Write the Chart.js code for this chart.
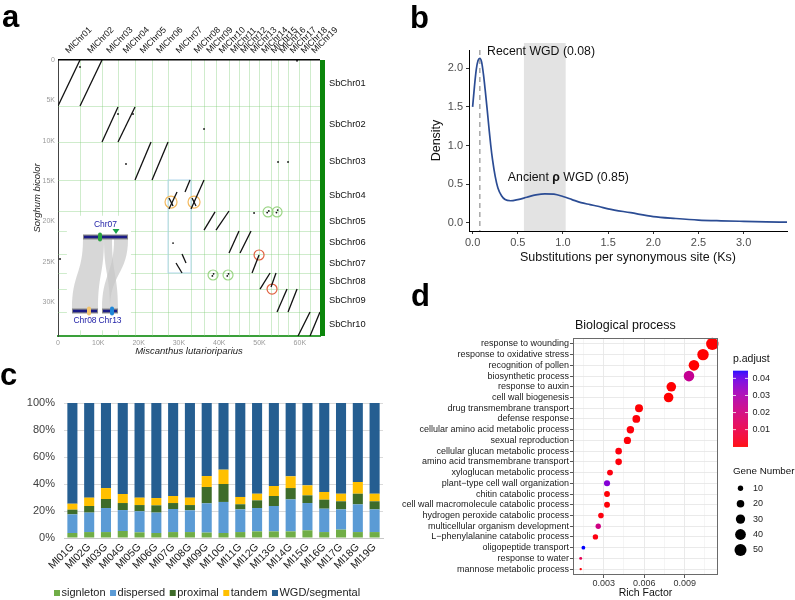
<!DOCTYPE html>
<html>
<head>
<meta charset="utf-8">
<title>Synteny, Ks and GO panels</title>
<script src="https://cdn.jsdelivr.net/npm/chart.js@4.4.1/dist/chart.umd.min.js"></script>
<style>
  body { margin: 0; width: 795px; height: 600px; position: relative; overflow: hidden; background: #fff;
         font-family: "Liberation Sans", Arial, Helvetica, sans-serif; }
  canvas { position: absolute; }
  .tag { position: absolute; font-size: 31px; font-weight: bold; line-height: 31px; color: #000; }
</style>
</head>
<body>
<canvas id="dotplot" width="400" height="360" style="left:0;top:0"></canvas>
<canvas id="ksplot" width="395" height="270" style="left:400px;top:0"></canvas>
<canvas id="dupbars" width="400" height="240" style="left:0;top:360px"></canvas>
<canvas id="goplot" width="395" height="300" style="left:400px;top:300px"></canvas>
<div class="tag" style="left:2px;top:1px">a</div>
<div class="tag" style="left:410px;top:2px">b</div>
<div class="tag" style="left:0;top:359px">c</div>
<div class="tag" style="left:411px;top:280px">d</div>
<script>
/* a: dot plot M. lutarioriparius vs S. bicolor (gene order, in thousands) */
const MI_CHR = ['MlChr01','MlChr02','MlChr03','MlChr04','MlChr05','MlChr06','MlChr07','MlChr08','MlChr09','MlChr10',
                'MlChr11','MlChr12','MlChr13','MlChr14','MlChr15','MlChr16','MlChr17','MlChr18','MlChr19'];
const MI_BOUNDS = [0, 5.46, 10.92, 14.89, 19.11, 23.33, 27.30, 33.0, 36.23, 39.2, 42.43, 44.9, 47.4, 49.88,
                   52.85, 54.59, 57.07, 59.8, 62.53, 65.0];
const SB_CHR = ['SbChr01','SbChr02','SbChr03','SbChr04','SbChr05','SbChr06','SbChr07','SbChr08','SbChr09','SbChr10'];
const SB_BOUNDS = [0, 5.70, 10.16, 14.87, 18.71, 21.19, 24.04, 26.39, 28.38, 31.23, 34.2];
const DOT_X_TICKS = [0, 10, 20, 30, 40, 50, 60];
const DOT_Y_TICKS = [0, 5, 10, 15, 20, 25, 30];
// synteny blocks: [mi start, sb start, mi end, sb end]
const BLOCKS = [
  [0, 5.70, 5.46, 0], [5.46, 5.70, 10.92, 0],
  [10.92, 10.16, 14.89, 5.82], [14.89, 10.16, 19.11, 5.82],
  [19.11, 14.87, 23.08, 10.16], [23.33, 14.87, 27.30, 10.16],
  [27.54, 18.46, 29.53, 16.36], [31.51, 16.36, 32.75, 14.87], [33.0, 18.46, 36.23, 14.87],
  [27.54, 17.10, 28.54, 18.09], [33.25, 17.10, 34.24, 18.09],
  [36.23, 21.07, 38.96, 18.83], [39.2, 21.07, 42.43, 18.71],
  [42.43, 23.92, 44.91, 21.19], [45.16, 23.92, 47.89, 21.19],
  [48.14, 26.39, 49.88, 24.16], [30.77, 24.04, 31.76, 25.15], [29.28, 25.15, 30.77, 26.39],
  [50.12, 28.38, 52.61, 26.39], [52.85, 28.13, 54.09, 26.39],
  [54.34, 31.23, 56.82, 28.38], [57.07, 31.23, 59.31, 28.38],
  [59.55, 34.2, 62.53, 31.23], [62.53, 34.2, 65.0, 31.23]
];
const LONE_HITS = [[5.46, 0.87], [14.89, 6.69], [18.61, 6.69], [16.87, 12.89], [36.23, 8.55], [54.59, 12.64],
  [57.07, 12.64], [28.54, 22.68], [0.5, 24.66], [48.64, 18.96], [59.3, 0.1],
  [51.9, 18.9], [52.3, 18.7], [54.2, 18.9], [54.5, 18.6], [38.3, 26.75], [38.6, 26.5], [42.0, 26.75], [42.3, 26.5]];
const HL_ORANGE = [[28.04, 17.6], [33.75, 17.6]];
const HL_GREEN = [[52.11, 18.83], [54.34, 18.83], [38.46, 26.64], [42.18, 26.64]];
const HL_RED = [[49.88, 24.16], [53.10, 28.38]];
const BLUE_BOX = [27.3, 14.87, 33.0, 26.39];
// inset: Chr07 -> Chr08 / Chr13 micro-synteny
const INSET_CHR = [['Chr07', 6.2, 17.37, 21.93], ['Chr08', 3.47, 9.93, 31.1], ['Chr13', 10.92, 14.89, 31.1]];
const INSET_LINKS = [[6.2, 11.41, 3.47, 9.93], [11.41, 13.4, 12.9, 14.89], [13.9, 17.37, 10.92, 12.9]];
const INSET_GENES = [[0, 10.42], [1, 7.69], [2, 13.4]];
const INSET_TARGET = 14.39;

/* b: Ks density */
const KS = [0, 0.02, 0.04, 0.06, 0.08, 0.10, 0.12, 0.14, 0.16, 0.18, 0.20, 0.22, 0.25, 0.28, 0.32, 0.36, 0.42,
            0.50, 0.60, 0.70, 0.80, 0.90, 1.00, 1.10, 1.20, 1.30, 1.40, 1.50, 1.75, 2.00, 2.25, 2.50, 2.75, 3.00, 3.25, 3.48];
const DENSITY = [1.50, 1.76, 1.98, 2.10, 2.13, 2.08, 1.92, 1.71, 1.48, 1.24, 1.01, 0.82, 0.60, 0.45, 0.35, 0.30, 0.285,
                 0.30, 0.33, 0.36, 0.375, 0.37, 0.34, 0.30, 0.26, 0.235, 0.21, 0.18, 0.13, 0.08, 0.055, 0.035, 0.025, 0.018, 0.012, 0.007];
const KS_TICKS = [0, 0.5, 1, 1.5, 2, 2.5, 3];
const DENS_TICKS = [0, 0.5, 1, 1.5, 2];
const KS_RECENT = 0.08;
const KS_ANCIENT_BAND = [0.568, 1.03];

/* c: duplication modes per chromosome (%) */
const DUP_CHR = ['Ml01G','Ml02G','Ml03G','Ml04G','Ml05G','Ml06G','Ml07G','Ml08G','Ml09G','Ml10G',
                 'Ml11G','Ml12G','Ml13G','Ml14G','Ml15G','Ml16G','Ml17G','Ml18G','Ml19G'];
const SINGLETON = [3.7, 4.4, 4.4, 5.2, 4.2, 3.7, 4.4, 4.4, 4.0, 3.7, 4.4, 4.9, 4.9, 4.9, 5.7, 4.4, 6.2, 4.4, 4.4];
const DISPERSED = [13.8, 14.4, 17.8, 15.5, 15.6, 15.1, 17.1, 16.1, 21.7, 23.0, 16.8, 17.3, 18.8, 23.7, 20.2, 17.3, 15.0, 20.5, 16.8];
const PROXIMAL = [3.5, 4.9, 6.7, 5.2, 4.6, 5.4, 4.4, 3.9, 12.1, 13.3, 3.8, 5.7, 7.4, 8.4, 5.7, 6.7, 6.0, 7.9, 6.0];
const TANDEM = [4.4, 6.2, 8.1, 6.7, 5.5, 5.4, 5.2, 5.5, 8.1, 10.6, 5.4, 4.9, 7.4, 8.7, 7.4, 5.7, 5.6, 8.7, 5.6];
const WGD = [74.6, 70.1, 63.0, 67.4, 70.1, 70.4, 68.9, 70.1, 54.1, 49.4, 69.6, 67.2, 61.5, 54.3, 61.0, 65.9, 67.2, 58.5, 67.2];

/* d: GO enrichment, biological process */
const GO_TERMS = ['response to wounding', 'response to oxidative stress', 'recognition of pollen', 'biosynthetic process',
  'response to auxin', 'cell wall biogenesis', 'drug transmembrane transport', 'defense response',
  'cellular amino acid metabolic process', 'sexual reproduction', 'cellular glucan metabolic process',
  'amino acid transmembrane transport', 'xyloglucan metabolic process', 'plant\u2212type cell wall organization',
  'chitin catabolic process', 'cell wall macromolecule catabolic process', 'hydrogen peroxide catabolic process',
  'multicellular organism development', 'L\u2212phenylalanine catabolic process', 'oligopeptide transport',
  'response to water', 'mannose metabolic process'];
const GO_RICH = [0.01105, 0.01036, 0.00969, 0.00932, 0.00801, 0.00781, 0.00562, 0.00542, 0.00498, 0.00476, 0.00411,
                 0.00411, 0.00347, 0.00325, 0.00325, 0.00325, 0.0028, 0.0026, 0.00239, 0.0015, 0.0013, 0.0013];
const GO_COUNT = [53, 45, 39, 39, 32, 32, 22, 21, 19, 18, 15, 15, 12, 13, 12, 12, 11, 10, 10, 5, 3, 2];
const GO_PADJ = [0.00001, 0.0001, 0.00002, 0.024, 0.0002, 0.00001, 0.0003, 0.0006, 0.0008, 0.0005, 0.0009, 0.0008,
                 0.0012, 0.037, 0.0004, 0.0005, 0.0010, 0.021, 0.0012, 0.0445, 0.012, 0.0006];
const RICH_TICKS = [0.0015, 0.003, 0.0045, 0.006, 0.0075, 0.009, 0.0105];
const PADJ_BREAKS = [0.04, 0.03, 0.02, 0.01];
const COUNT_BREAKS = [10, 20, 30, 40, 50];

const FONT = '"Liberation Sans", Arial, Helvetica, sans-serif';
Chart.defaults.font.family = FONT;
Chart.defaults.color = '#222';
const base = { responsive: false, animation: false, devicePixelRatio: 1, events: [],
  plugins: { legend: { display: false }, tooltip: { enabled: false } } };

function seg(ctx, x1, y1, x2, y2) { ctx.beginPath(); ctx.moveTo(x1, y1); ctx.lineTo(x2, y2); ctx.stroke(); }
const pts = arr => arr.map(([x, y]) => ({ x, y }));
const fixTicks = list => s => { s.ticks = list.map(v => ({ value: v })); };

/* ---------- a ---------- */
function drawInset(ctx, x, y) {
  const X = v => x.getPixelForValue(v), Y = v => y.getPixelForValue(v);
  ctx.fillStyle = '#fff';
  ctx.fillRect(X(2.2), Y(19.3), X(18.1) - X(2.2), Y(33.5) - Y(19.3));
  const topY = Y(INSET_CHR[0][3]) + 2, botY = Y(INSET_CHR[1][3]) - 2, m = (topY + botY) / 2;
  ctx.fillStyle = 'rgba(200,200,200,0.72)';
  INSET_LINKS.forEach(([t0, t1, b0, b1]) => {
    ctx.beginPath();
    ctx.moveTo(X(t0), topY);
    ctx.bezierCurveTo(X(t0), m, X(b0), m, X(b0), botY);
    ctx.lineTo(X(b1), botY);
    ctx.bezierCurveTo(X(b1), m, X(t1), m, X(t1), topY);
    ctx.closePath(); ctx.fill();
  });
  ctx.font = '8.5px ' + FONT; ctx.textAlign = 'center'; ctx.textBaseline = 'middle';
  INSET_CHR.forEach(([name, a, b, at], i) => {
    const yy = Y(at);
    ctx.fillStyle = '#8a8a8a'; ctx.fillRect(X(a), yy - 2.5, X(b) - X(a), 5);
    ctx.fillStyle = '#1b1b86'; ctx.fillRect(X(a) + 1, yy - 1.3, X(b) - X(a) - 2, 2.6);
    ctx.fillStyle = '#2323a8';
    ctx.fillText(name, (X(a) + X(b)) / 2, i === 0 ? yy - 12 : yy + 10);
  });
  const markColors = ['#2aa040', '#f3c46e', '#1e86d8'];
  INSET_GENES.forEach(([c, at], i) => {
    const yy = Y(INSET_CHR[c][3]);
    ctx.fillStyle = markColors[i];
    ctx.beginPath(); ctx.roundRect(X(at) - 2, yy - 4.5, 4, 9, 2); ctx.fill();
  });
  const tx = X(INSET_TARGET), ty = Y(INSET_CHR[0][3]) - 3;
  ctx.fillStyle = '#1aa34a';
  ctx.beginPath(); ctx.moveTo(tx - 3.5, ty - 5); ctx.lineTo(tx + 3.5, ty - 5); ctx.lineTo(tx, ty); ctx.closePath(); ctx.fill();
}

const dotplotDecor = {
  id: 'dotplotDecor',
  beforeDatasetsDraw(chart) {
    const { ctx, chartArea: a, scales: { x, y } } = chart;
    ctx.save();
    ctx.lineWidth = 1;
    ctx.strokeStyle = 'rgba(130,205,120,0.38)';
    MI_BOUNDS.slice(1, -1).forEach(v => { const p = Math.round(x.getPixelForValue(v)) + 0.5; seg(ctx, p, a.top, p, a.bottom); });
    SB_BOUNDS.slice(1, -1).forEach(v => { const p = Math.round(y.getPixelForValue(v)) + 0.5; seg(ctx, a.left, p, a.right, p); });
    ctx.strokeStyle = '#b3d8ee';
    const bx = x.getPixelForValue(BLUE_BOX[0]), by = y.getPixelForValue(BLUE_BOX[1]);
    ctx.strokeRect(bx, by, x.getPixelForValue(BLUE_BOX[2]) - bx, y.getPixelForValue(BLUE_BOX[3]) - by);
    drawInset(ctx, x, y);
    ctx.restore();
  },
  afterDraw(chart) {
    const { ctx, chartArea: a, scales: { x, y } } = chart;
    ctx.save();
    ctx.fillStyle = '#000'; ctx.fillRect(a.left, a.top - 1, a.right - a.left, 1.5);
    ctx.fillStyle = '#0b860b'; ctx.fillRect(a.right, a.top, 5, a.bottom - a.top);
    ctx.fillStyle = '#111'; ctx.textAlign = 'left'; ctx.textBaseline = 'middle';
    ctx.font = '8.8px ' + FONT;
    MI_CHR.forEach((name, i) => {
      const mid = x.getPixelForValue((MI_BOUNDS[i] + MI_BOUNDS[i + 1]) / 2);
      ctx.save(); ctx.translate(mid - 2, a.top - 8); ctx.rotate(-Math.PI / 4); ctx.fillText(name, 0, 0); ctx.restore();
    });
    ctx.font = '9.3px ' + FONT;
    SB_CHR.forEach((name, i) => {
      ctx.fillText(name, a.right + 9, y.getPixelForValue((SB_BOUNDS[i] + SB_BOUNDS[i + 1]) / 2));
    });
    ctx.restore();
  }
};

const fmtK = v => v === 0 ? '0' : v + 'K';
const ring = (data, color, r) => ({ data: pts(data), pointRadius: r, borderColor: color, borderWidth: 1.2,
  backgroundColor: 'rgba(0,0,0,0)' });

new Chart(document.getElementById('dotplot'), {
  type: 'scatter',
  data: { datasets: [
    ...BLOCKS.map(b => ({ data: [{ x: b[0], y: b[1] }, { x: b[2], y: b[3] }], showLine: true,
      borderColor: '#111', borderWidth: 1.3, pointRadius: 0 })),
    { data: pts(LONE_HITS), pointRadius: 0.9, backgroundColor: '#111', borderWidth: 0 },
    ring(HL_ORANGE, '#f3b95e', 6),
    ring(HL_GREEN, '#9bd585', 5),
    ring(HL_RED, '#e0603e', 5)
  ] },
  options: { ...base,
    layout: { padding: { left: 0, top: 60, right: 80, bottom: 0 } },
    scales: {
      x: { type: 'linear', min: 0, max: 65, afterFit: s => { s.height = 24; }, afterBuildTicks: fixTicks(DOT_X_TICKS),
        grid: { display: false, drawTicks: false }, border: { color: '#3aa03a', width: 2 },
        ticks: { font: { size: 7 }, color: '#9a9a9a', padding: 3, callback: fmtK, autoSkip: false },
        title: { display: true, text: 'Miscanthus lutarioriparius', color: '#222',
          font: { size: 9.5, style: 'italic' }, padding: { top: 0, bottom: 3 } } },
      y: { type: 'linear', reverse: true, min: 0, max: 34.2, afterFit: s => { s.width = 58; },
        afterBuildTicks: fixTicks(DOT_Y_TICKS),
        grid: { display: false, drawTicks: false }, border: { color: '#444', width: 1 },
        ticks: { font: { size: 7 }, color: '#9a9a9a', padding: 3, callback: fmtK, autoSkip: false },
        title: { display: true, text: 'Sorghum bicolor', color: '#222',
          font: { size: 9.5, style: 'italic' }, padding: { top: 32, bottom: 0 } } }
    }
  },
  plugins: [dotplotDecor]
});

/* ---------- b ---------- */
const ksDecor = {
  id: 'ksDecor',
  beforeDatasetsDraw(chart) {
    const { ctx, chartArea: a, scales: { x } } = chart;
    ctx.save();
    const x0 = x.getPixelForValue(KS_ANCIENT_BAND[0]), x1 = x.getPixelForValue(KS_ANCIENT_BAND[1]);
    ctx.fillStyle = '#e3e3e3';
    ctx.fillRect(x0, a.top - 7, x1 - x0, a.bottom - a.top + 7);
    const xr = x.getPixelForValue(KS_RECENT);
    ctx.strokeStyle = '#9a9a9a'; ctx.lineWidth = 1.3; ctx.setLineDash([5, 4]);
    seg(ctx, xr, a.top, xr, a.bottom);
    ctx.restore();
  },
  afterDatasetsDraw(chart) {
    const { ctx, scales: { x, y } } = chart;
    ctx.save();
    ctx.fillStyle = '#111'; ctx.textAlign = 'left'; ctx.textBaseline = 'middle';
    ctx.font = '12.3px ' + FONT;
    ctx.fillText('Recent WGD (0.08)', x.getPixelForValue(0.16), y.getPixelForValue(2.21));
    let px = x.getPixelForValue(0.39);
    const py = y.getPixelForValue(0.58);
    [['Ancient ', ''], ['\u03c1', 'bold '], [' WGD (0.85)', '']].forEach(([t, w]) => {
      ctx.font = w + '12.3px ' + FONT;
      ctx.fillText(t, px, py);
      px += ctx.measureText(t).width;
    });
    ctx.restore();
  }
};

new Chart(document.getElementById('ksplot'), {
  type: 'scatter',
  data: { datasets: [{ data: KS.map((k, i) => ({ x: k, y: DENSITY[i] })), showLine: true, pointRadius: 0,
    borderColor: '#2b4c94', borderWidth: 1.7, cubicInterpolationMode: 'monotone' }] },
  options: { ...base,
    layout: { padding: { left: 0, top: 50, right: 8, bottom: 0 } },
    scales: {
      x: { type: 'linear', min: -0.04, max: 3.48, afterFit: s => { s.height = 39; }, afterBuildTicks: fixTicks(KS_TICKS),
        grid: { drawOnChartArea: false, tickLength: 3, color: '#333' }, border: { color: '#000', width: 1 },
        ticks: { font: { size: 11 }, color: '#4d4d4d', padding: 2, callback: v => v.toFixed(1), autoSkip: false },
        title: { display: true, text: 'Substitutions per synonymous site (Ks)', color: '#111',
          font: { size: 12.5 }, padding: { top: 0, bottom: 5 } } },
      y: { type: 'linear', min: -0.107, max: 2.237, afterFit: s => { s.width = 69; }, afterBuildTicks: fixTicks(DENS_TICKS),
        grid: { drawOnChartArea: false, tickLength: 3, color: '#333' }, border: { color: '#000', width: 1 },
        ticks: { font: { size: 11 }, color: '#4d4d4d', padding: 3, callback: v => v.toFixed(1), autoSkip: false },
        title: { display: true, text: 'Density', color: '#111', font: { size: 12.5 }, padding: { top: 29, bottom: 0 } } }
    }
  },
  plugins: [ksDecor]
});

/* ---------- c ---------- */
const barLegend = {
  id: 'barLegend',
  afterDraw(chart) {
    const { ctx } = chart;
    ctx.save();
    ctx.font = '11px ' + FONT; ctx.textBaseline = 'middle'; ctx.textAlign = 'left';
    let px = 54;
    const py = 233;
    chart.data.datasets.forEach(ds => {
      ctx.fillStyle = ds.backgroundColor; ctx.fillRect(px, py - 3, 6, 6);
      ctx.fillStyle = '#222'; ctx.fillText(ds.label, px + 7.5, py);
      px += 7.5 + ctx.measureText(ds.label).width + 4.5;
    });
    ctx.restore();
  }
};

new Chart(document.getElementById('dupbars'), {
  type: 'bar',
  data: { labels: DUP_CHR, datasets: [
    { label: 'signleton', data: SINGLETON, backgroundColor: '#70ad47' },
    { label: 'dispersed', data: DISPERSED, backgroundColor: '#5b9bd5' },
    { label: 'proximal', data: PROXIMAL, backgroundColor: '#3e6c2a' },
    { label: 'tandem', data: TANDEM, backgroundColor: '#ffc000' },
    { label: 'WGD/segmental', data: WGD, backgroundColor: '#255e91' }
  ] },
  options: { ...base,
    datasets: { bar: { categoryPercentage: 1, barPercentage: 0.6, borderWidth: 0 } },
    layout: { padding: { left: 0, top: 43, right: 17, bottom: 0 } },
    scales: {
      x: { stacked: true, afterFit: s => { s.height = 62; }, grid: { display: false, drawTicks: false },
        border: { color: '#c8c8c8', width: 1 },
        ticks: { font: { size: 10.5 }, color: '#1a1a1a', minRotation: 45, maxRotation: 45, padding: 3, autoSkip: false } },
      y: { stacked: true, min: 0, max: 100, afterFit: s => { s.width = 64; },
        grid: { color: '#dadada', drawTicks: false }, border: { display: false },
        ticks: { stepSize: 20, font: { size: 11 }, color: '#404040', padding: 9, callback: v => v + '%' } }
    }
  },
  plugins: [barLegend]
});

/* ---------- d ---------- */
function toLab(hex) {
  const [r, g, b] = [1, 3, 5].map(i => parseInt(hex.substr(i, 2), 16) / 255)
    .map(c => c <= 0.04045 ? c / 12.92 : Math.pow((c + 0.055) / 1.055, 2.4));
  const f = t => t > 0.008856 ? Math.cbrt(t) : 7.787 * t + 16 / 116;
  const X = f((r * 0.4124 + g * 0.3576 + b * 0.1805) / 0.95047), Y = f(r * 0.2126 + g * 0.7152 + b * 0.0722),
        Z = f((r * 0.0193 + g * 0.1192 + b * 0.9505) / 1.08883);
  return [116 * Y - 16, 500 * (X - Y), 200 * (Y - Z)];
}
function fromLab([L, A, B]) {
  const fy = (L + 16) / 116, fx = fy + A / 500, fz = fy - B / 200;
  const fi = t => t ** 3 > 0.008856 ? t ** 3 : (t - 16 / 116) / 7.787;
  const X = fi(fx) * 0.95047, Y = fi(fy), Z = fi(fz) * 1.08883;
  const rgb = [X * 3.2406 - Y * 1.5372 - Z * 0.4986, -X * 0.9689 + Y * 1.8758 + Z * 0.0415, X * 0.0557 - Y * 0.2040 + Z * 1.0570];
  return 'rgb(' + rgb.map(c => {
    c = c <= 0.0031308 ? 12.92 * c : 1.055 * Math.pow(Math.max(c, 0), 1 / 2.4) - 0.055;
    return Math.round(Math.max(0, Math.min(1, c)) * 255);
  }).join(',') + ')';
}
const LAB_LO = toLab('#ff0000'), LAB_HI = toLab('#0000ff');
const P_MIN = Math.min(...GO_PADJ), P_MAX = Math.max(...GO_PADJ);
const padjColor = p => {
  const t = (p - P_MIN) / (P_MAX - P_MIN);
  return fromLab(LAB_LO.map((v, i) => v + (LAB_HI[i] - v) * t));
};
const bubbleR = n => 0.85 * Math.sqrt(n);

const goDecor = {
  id: 'goDecor',
  afterDatasetsDraw(chart) {
    const { ctx, chartArea: a } = chart;
    ctx.save();
    ctx.strokeStyle = '#6a6a6a'; ctx.lineWidth = 1;
    ctx.strokeRect(a.left + 0.5, a.top + 0.5, a.right - a.left - 1, a.bottom - a.top - 1);
    ctx.restore();
  },
  afterDraw(chart) {
    const { ctx, chartArea: a } = chart;
    ctx.save();
    ctx.fillStyle = '#111'; ctx.textAlign = 'left'; ctx.textBaseline = 'middle';
    ctx.font = '12.5px ' + FONT;
    ctx.fillText('Biological process', a.left + 2, 26);
    // colour bar
    const lx = a.right + 15, top = 70.7, h = 76, w = 15;
    ctx.font = '10.5px ' + FONT;
    ctx.fillText('p.adjust', lx, 59.5);
    for (let i = 0; i < h; i++) {
      ctx.fillStyle = padjColor(P_MIN + (P_MAX - P_MIN) * (1 - (i + 0.5) / h));
      ctx.fillRect(lx, top + i, w, 1.2);
    }
    ctx.font = '9px ' + FONT;
    PADJ_BREAKS.forEach(p => {
      const yy = top + h - (p - P_MIN) / (P_MAX - P_MIN) * h;
      ctx.strokeStyle = '#fff'; ctx.lineWidth = 0.8;
      seg(ctx, lx, yy, lx + 3, yy); seg(ctx, lx + w - 3, yy, lx + w, yy);
      ctx.fillStyle = '#222'; ctx.fillText(String(p), lx + w + 4.5, yy);
    });
    // size legend
    ctx.font = '9.8px ' + FONT; ctx.fillStyle = '#111';
    ctx.fillText('Gene Number', lx, 171.7);
    ctx.font = '9px ' + FONT;
    COUNT_BREAKS.forEach((n, i) => {
      const yy = 188.3 + i * 15.4;
      ctx.fillStyle = '#000';
      ctx.beginPath(); ctx.arc(lx + 7.5, yy, bubbleR(n), 0, Math.PI * 2); ctx.fill();
      ctx.fillStyle = '#222'; ctx.fillText(String(n), lx + 20, yy);
    });
    ctx.restore();
  }
};

const isMajor = v => Math.abs(v / 0.003 - Math.round(v / 0.003)) < 1e-6;

new Chart(document.getElementById('goplot'), {
  type: 'bubble',
  data: { datasets: [{
    data: GO_TERMS.map((t, i) => ({ x: GO_RICH[i], y: i, r: bubbleR(GO_COUNT[i]) })),
    backgroundColor: GO_PADJ.map(padjColor), borderWidth: 0, clip: false
  }] },
  options: { ...base,
    layout: { padding: { left: 0, top: 38, right: 77, bottom: 0 } },
    scales: {
      x: { type: 'linear', min: 0.00073, max: 0.01147, afterFit: s => { s.height = 25; },
        afterBuildTicks: fixTicks(RICH_TICKS),
        grid: { color: '#e8e8e8', lineWidth: c => c.tick && isMajor(c.tick.value) ? 0.9 : 0.45, tickLength: 3,
          tickColor: c => c.tick && isMajor(c.tick.value) ? '#444' : 'rgba(0,0,0,0)' },
        border: { display: false },
        ticks: { font: { size: 9 }, color: '#333', padding: 0, autoSkip: false, minRotation: 0, maxRotation: 0,
          callback: v => isMajor(v) ? v.toFixed(3) : '' },
        title: { display: true, text: 'Rich Factor', color: '#111', font: { size: 10.5 }, padding: { top: 0, bottom: 1 } } },
      y: { type: 'linear', reverse: true, min: -0.55, max: 21.55, afterFit: s => { s.width = 173; },
        afterBuildTicks: fixTicks(GO_TERMS.map((t, i) => i)),
        grid: { color: '#e8e8e8', lineWidth: 0.9, tickLength: 3, tickColor: '#444' }, border: { display: false },
        ticks: { font: { size: 9 }, color: '#1a1a1a', padding: 1, autoSkip: false, callback: v => GO_TERMS[v] } }
    }
  },
  plugins: [goDecor]
});
</script>
</body>
</html>
